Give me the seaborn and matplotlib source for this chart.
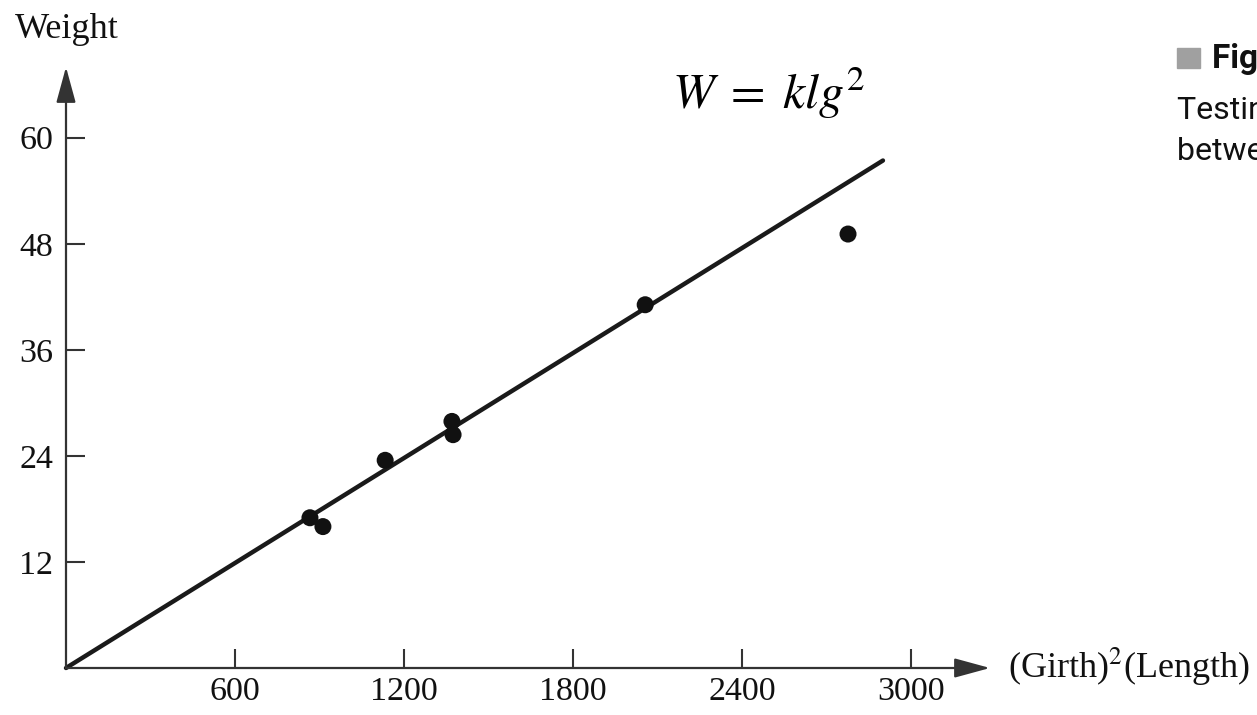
import matplotlib
matplotlib.use("Agg")
import matplotlib.pyplot as plt
import matplotlib.patches as mpatches
import seaborn as sns
import pandas as pd

# datos
girth2_length = [866, 912, 1133, 1370, 1374, 2056, 2776]
weight = [17.0, 16.0, 23.5, 27.9, 26.4, 41.1, 49.1]
fit_x = [0, 2900]
k = 0.0198
x_ticks = [600, 1200, 1800, 2400, 3000]
y_ticks = [12, 24, 36, 48, 60]

pts = pd.DataFrame({"x": girth2_length, "w": weight})
fit = pd.DataFrame({"x": fit_x, "w": [k * v for v in fit_x]})

sns.set_style("white")
plt.rcParams["font.family"] = ["Liberation Serif", "DejaVu Serif"]
plt.rcParams["mathtext.fontset"] = "stix"

W, H = 1257, 715
fig = plt.figure(figsize=(W / 100, H / 100), dpi=100)
ax = fig.add_axes([66 / W, 47 / H, 924 / W, 601 / H])

axis_col = "#333333"
sns.lineplot(data=fit, x="x", y="w", ax=ax, color="#1a1a1a", lw=3.2, clip_on=False)
sns.scatterplot(data=pts, x="x", y="w", ax=ax, color="#111111", s=150,
                edgecolor="none", clip_on=False, zorder=3)

ax.set_xlim(0, 3280)
ax.set_ylim(0, 68)
ax.set_xticks(x_ticks)
ax.set_yticks(y_ticks)
ax.set_xlabel("")
ax.set_ylabel("")
for s in ax.spines.values():
    s.set_visible(False)
ax.tick_params(bottom=True, left=True, direction="in", length=13.5, width=1.5,
               color=axis_col, labelsize=24.5, labelcolor="#111111")
ax.tick_params(axis="x", pad=6)
ax.tick_params(axis="y", pad=9)

# ejes con flechas
arrow = dict(arrowstyle="-|>,head_length=1.1,head_width=0.3", lw=1.6,
             color=axis_col, shrinkA=0, shrinkB=0, mutation_scale=20)
ax.annotate("", xy=(1, 0), xytext=(0, 0), xycoords="axes fraction",
            textcoords="axes fraction", arrowprops=arrow)
ax.annotate("", xy=(0, 1), xytext=(0, 0), xycoords="axes fraction",
            textcoords="axes fraction", arrowprops=arrow)

fig.text(15 / W, 1 - 30 / H, "Weight", ha="left", va="center", fontsize=26,
         color="#111111")
fig.text(1008 / W, 1 - 667 / H, "(Girth)$^{2}$(Length)", ha="left", va="center",
         fontsize=26, color="#111111")
fig.text(672 / W, 1 - 93 / H, r"$W\;=\;klg^{2}$", ha="left", va="center",
         fontsize=36, color="black")

# texto de la leyenda de la figura (cortado por el borde)
sans = ["Liberation Sans Narrow", "Roboto", "DejaVu Sans"]
fig.patches.append(mpatches.Rectangle((1177 / W, 1 - 68 / H), 23 / W, 20 / H,
                                      transform=fig.transFigure,
                                      color="#a0a0a0"))
fig.text(1212 / W, 1 - 68 / H, "Figure 3.9", ha="left", va="baseline",
         fontsize=24, fontweight="bold", family=sans, color="#111111")
fig.text(1177 / W, 1 - 119 / H, "Testing the proportionality", ha="left",
         va="baseline", fontsize=23, family=sans, color="#111111")
fig.text(1177 / W, 1 - 160 / H, "between W and lg\u00b2", ha="left",
         va="baseline", fontsize=23, family=sans, color="#111111")

fig.savefig("out.png", dpi=100)
